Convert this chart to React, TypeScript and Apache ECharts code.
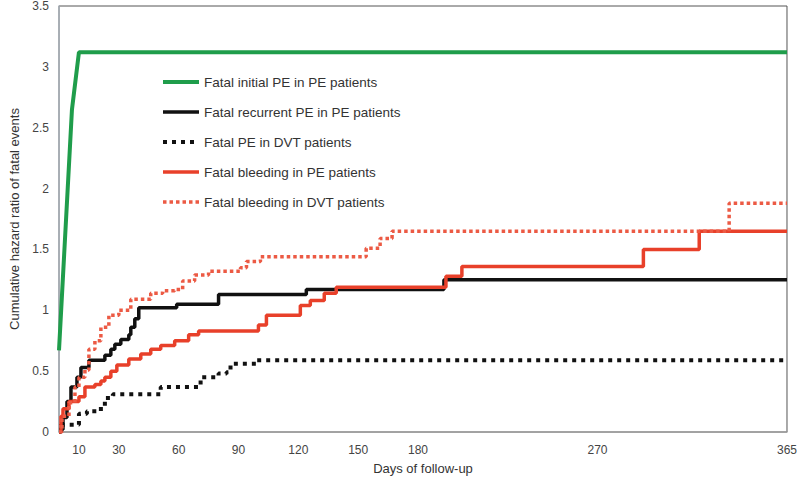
import React, { useEffect, useRef } from "react";
import * as echarts from "echarts";

const xTickLabels = [10, 30, 60, 90, 120, 150, 180, 270, 365];

const seriesNames = [
  "Fatal initial PE in PE patients",
  "Fatal recurrent PE in PE patients",
  "Fatal PE in DVT patients",
  "Fatal bleeding in PE patients",
  "Fatal bleeding in DVT patients",
];

const initialPE_PE: [number, number][] = [
  [0, 0.67], [6.5, 2.65], [10, 3.12], [365, 3.12],
];

const recurrentPE_PE: [number, number][] = [
  [0, 0.02], [2, 0.12], [4, 0.25], [6, 0.37], [9, 0.45], [11, 0.53], [15, 0.59],
  [23, 0.63], [26, 0.68], [28, 0.72], [31, 0.76], [35, 0.8], [36, 0.86], [38, 0.93],
  [40, 1.02], [59, 1.05], [80, 1.13], [124, 1.17], [193, 1.25], [365, 1.25],
];

const pe_DVT: [number, number][] = [
  [0, 0], [1, 0.06], [10, 0.15], [14, 0.17], [21, 0.21], [23, 0.28], [27, 0.31],
  [51, 0.37], [71, 0.45], [80, 0.48], [84, 0.49], [86, 0.56], [99, 0.59], [365, 0.59],
];

const bleeding_PE: [number, number][] = [
  [0, 0], [1, 0.13], [2, 0.19], [5, 0.25], [10, 0.29], [13, 0.37], [18, 0.39],
  [21, 0.42], [23, 0.45], [26, 0.5], [29, 0.55], [35, 0.6], [41, 0.64], [46, 0.68],
  [51, 0.71], [58, 0.75], [65, 0.8], [70, 0.83], [100, 0.88], [104, 0.96], [121, 1.04],
  [126, 1.08], [133, 1.14], [139, 1.19], [194, 1.28], [202, 1.36], [293, 1.5],
  [321, 1.65], [365, 1.65],
];

const bleeding_DVT: [number, number][] = [
  [0, 0], [1.5, 0.13], [5, 0.24], [8, 0.37], [10, 0.45], [13, 0.51], [15, 0.68],
  [18, 0.75], [21, 0.86], [25, 0.96], [30, 1.0], [36, 1.09], [46, 1.14], [52, 1.16],
  [58, 1.17], [62, 1.24], [68, 1.29], [75, 1.32], [91, 1.35], [94, 1.4], [101, 1.44],
  [154, 1.51], [161, 1.59], [167, 1.65], [336, 1.88], [365, 1.88],
];

export default function App() {
  const ref = useRef<HTMLDivElement>(null);
  useEffect(() => {
    if (!ref.current) return;
    const chart = echarts.init(ref.current, undefined, { renderer: "svg" });
    const font = "Liberation Sans, Arial, sans-serif";
    chart.setOption({
      animation: false,
      backgroundColor: "#ffffff",
      textStyle: { fontFamily: font },
      grid: {
        left: 52, right: 10, top: 4, bottom: 44,
        show: true, borderColor: "#555", borderWidth: 1,
      },
      legend: {
        orient: "vertical",
        left: 156,
        top: 70,
        itemWidth: 36,
        itemHeight: 14,
        itemGap: 16,
        itemStyle: { opacity: 0 },
        lineStyle: { width: "inherit" },
        textStyle: { fontSize: 13.5, color: "#333", fontFamily: font },
        data: seriesNames,
      },
      xAxis: {
        type: "value",
        min: 0,
        max: 365,
        name: "Days of follow-up",
        nameLocation: "middle",
        nameGap: 30,
        nameTextStyle: { fontSize: 13, color: "#333" },
        splitLine: { show: false },
        axisTick: { show: false },
        axisLine: { show: true, lineStyle: { color: "#a0a0a0", width: 1.5 } },
        axisLabel: {
          customValues: xTickLabels,
          fontSize: 12,
          color: "#444",
          margin: 12,
          showMaxLabel: true,
        },
      },
      yAxis: {
        type: "value",
        min: 0,
        max: 3.5,
        interval: 0.5,
        name: "Cumulative hazard ratio of fatal events",
        nameLocation: "middle",
        nameGap: 38,
        nameTextStyle: { fontSize: 13, color: "#333" },
        splitLine: { show: false },
        axisTick: { show: false },
        axisLine: { show: true, lineStyle: { color: "#a8b0b8", width: 1.5 } },
        axisLabel: { fontSize: 12, color: "#444", margin: 10 },
      },
      series: [
        {
          name: seriesNames[0], type: "line", data: initialPE_PE, symbol: "none",
          color: "#1f9d4b",
          lineStyle: { color: "#1f9d4b", width: 4 },
        },
        {
          name: seriesNames[1], type: "line", data: recurrentPE_PE, symbol: "none", step: "end",
          color: "#111111",
          lineStyle: { color: "#111111", width: 3.5 },
        },
        {
          name: seriesNames[2], type: "line", data: pe_DVT, symbol: "none", step: "end",
          color: "#111111",
          lineStyle: { color: "#111111", width: 4, type: [4, 5] },
        },
        {
          name: seriesNames[3], type: "line", data: bleeding_PE, symbol: "none", step: "end",
          color: "#e8402a",
          lineStyle: { color: "#e8402a", width: 3.5 },
        },
        {
          name: seriesNames[4], type: "line", data: bleeding_DVT, symbol: "none", step: "end",
          color: "#ec5a44",
          lineStyle: { color: "#ec5a44", width: 3.5, type: [3.5, 3] },
        },
      ],
    });
    return () => chart.dispose();
  }, []);
  return <div ref={ref} style={{ width: 800, height: 480, position: "absolute", left: 0, top: 0 }} />;
}
